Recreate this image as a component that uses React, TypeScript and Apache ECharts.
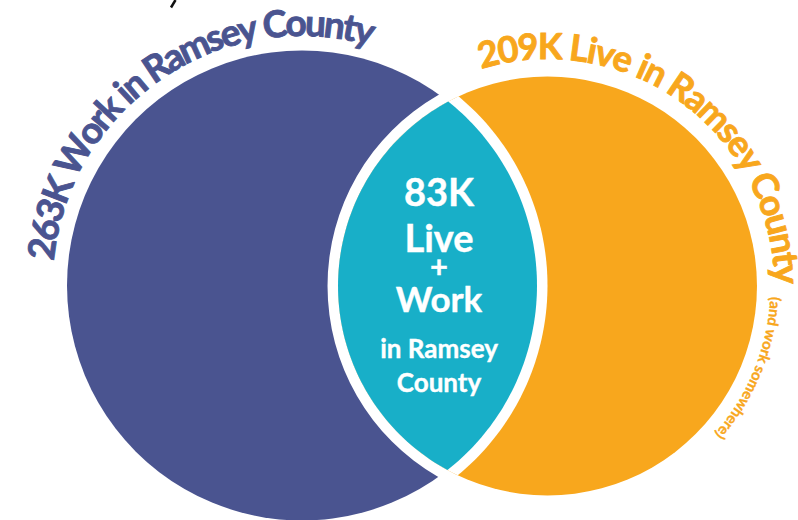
import React, { useEffect, useRef } from "react";
import * as echarts from "echarts";

// ---------------- data ----------------
const setNames = ["Work in Ramsey County", "Live in Ramsey County"];
const setValues = [263, 209]; // thousands of people
const overlapValue = 83; // thousands who live + work in Ramsey County
const valueSuffix = "K";
const overlapLines = ["Live", "+", "Work", "in Ramsey", "County"];
const liveNote = "(and work somewhere)";

// ---------------- style / layout ----------------
const W = 798;
const H = 520;
const COLORS = { work: "#4A5490", live: "#F8A71D", both: "#18AFC8", white: "#FFFFFF" };
const FONT = "Lato, 'Open Sans', sans-serif";
const PX_PER_SQRT = 14.49; // circle radius = PX_PER_SQRT * sqrt(value)
const CENTERS: [number, number][] = [
  [302, 285.5],
  [547.5, 286],
];
const GAP = 10.5;

type Circ = { cx: number; cy: number; r: number };

function lensPoints(a: Circ, b: Circ, n = 90): number[][] {
  const dx = b.cx - a.cx;
  const dy = b.cy - a.cy;
  const d = Math.hypot(dx, dy);
  const phiAB = Math.atan2(dy, dx);
  const phiBA = phiAB + Math.PI;
  const tA = Math.acos((d * d + a.r * a.r - b.r * b.r) / (2 * d * a.r));
  const tB = Math.acos((d * d + b.r * b.r - a.r * a.r) / (2 * d * b.r));
  const pts: number[][] = [];
  for (let i = 0; i <= n; i++) {
    const t = phiAB - tA + (2 * tA * i) / n;
    pts.push([a.cx + a.r * Math.cos(t), a.cy + a.r * Math.sin(t)]);
  }
  for (let i = 1; i < n; i++) {
    const t = phiBA - tB + (2 * tB * i) / n;
    pts.push([b.cx + b.r * Math.cos(t), b.cy + b.r * Math.sin(t)]);
  }
  return pts;
}

let measureCtx: CanvasRenderingContext2D | null = null;
function measure(text: string, font: string): number {
  if (!measureCtx) measureCtx = document.createElement("canvas").getContext("2d");
  measureCtx!.font = font;
  return measureCtx!.measureText(text).width;
}

// text placed clockwise along an arc; angles in degrees (math convention, y up)
function arcText(
  text: string,
  cx: number,
  cy: number,
  rMid: number,
  startDeg: number,
  endDeg: number,
  fontSize: number,
  color: string,
  weightStroke: number
) {
  const font = `bold ${fontSize}px ${FONT}`;
  const chars = Array.from(text);
  const widths = chars.map((c) => measure(c, font));
  const total = widths.reduce((s, w) => s + w, 0);
  const arcLen = (((startDeg - endDeg) * Math.PI) / 180) * rMid;
  const spacing = (arcLen - total) / (chars.length - 1);
  const els: any[] = [];
  let s = 0;
  chars.forEach((ch, i) => {
    const c = s + widths[i] / 2;
    const th = (startDeg * Math.PI) / 180 - c / rMid;
    s += widths[i] + spacing;
    if (ch === " ") return;
    els.push({
      type: "text",
      x: cx + rMid * Math.cos(th),
      y: cy - rMid * Math.sin(th),
      rotation: th - Math.PI / 2,
      z: 100,
      silent: true,
      style: {
        text: ch,
        fill: color,
        stroke: color,
        lineWidth: weightStroke,
        fontSize,
        lineHeight: Math.round(fontSize * 0.8),
        fontWeight: "bold",
        fontFamily: FONT,
        align: "center",
        verticalAlign: "middle",
      },
    });
  });
  return els;
}

export default function App() {
  const ref = useRef<HTMLDivElement>(null);

  useEffect(() => {
    const chart = echarts.init(ref.current!, undefined, { renderer: "svg", width: W, height: H });

    const radius = (v: number) => PX_PER_SQRT * Math.sqrt(v);
    const work: Circ = { cx: CENTERS[0][0], cy: CENTERS[0][1], r: radius(setValues[0]) };
    const live: Circ = { cx: CENTERS[1][0], cy: CENTERS[1][1], r: radius(setValues[1]) };

    const seriesData = [
      { name: setNames[0], value: setValues[0] },
      { name: setNames[1], value: setValues[1] },
      { name: "Live + Work in Ramsey County", value: overlapValue },
    ];

    const renderItem = (params: any) => {
      const i = params.dataIndex;
      if (i === 0) {
        return { type: "circle", shape: { ...work }, style: { fill: COLORS.work } };
      }
      if (i === 1) {
        return {
          type: "group",
          children: [
            { type: "circle", shape: { cx: live.cx, cy: live.cy, r: live.r + GAP }, style: { fill: COLORS.white } },
            { type: "circle", shape: { ...live }, style: { fill: COLORS.live } },
            {
              type: "polygon",
              shape: { points: lensPoints({ ...work, r: work.r + GAP }, live) },
              style: { fill: COLORS.white },
            },
          ],
        };
      }
      return { type: "polygon", shape: { points: lensPoints(work, live) }, style: { fill: COLORS.both } };
    };

    const labelWork = `${setValues[0]}${valueSuffix} ${setNames[0]}`;
    const labelLive = `${setValues[1]}${valueSuffix} ${setNames[1]}`;

    const centerX = 439;
    // [text, baseline y, font size, line-box height]
    const centerSpec: [string, number, number, number][] = [
      [`${overlapValue}${valueSuffix}`, 205, 38, 32],
      [overlapLines[0], 251, 38, 30],
      [overlapLines[1], 277, 31, 18],
      [overlapLines[2], 311, 35, 28],
      [overlapLines[3], 357, 26, 26],
      [overlapLines[4], 391, 26, 26],
    ];
    const centerTexts = centerSpec.map(([t, base, fs, lh]) => ({
      type: "text",
      x: centerX,
      y: base - 0.36 * fs,
      z: 100,
      silent: true,
      style: {
        text: t,
        fill: COLORS.white,
        stroke: COLORS.white,
        lineWidth: 0.4,
        fontSize: fs,
        lineHeight: lh,
        fontWeight: "bold",
        fontFamily: FONT,
        align: "center",
        verticalAlign: "middle",
      },
    }));

    const graphics = [
      ...arcText(labelWork, work.cx, work.cy, 264, 174.3, 74, 37, COLORS.work, 0.9),
      ...arcText(labelLive, live.cx, live.cy, 241, 106.8, 0.5, 36, COLORS.live, 0.9),
      ...arcText(liveNote, live.cx, live.cy, 229, -2.8, -41.5, 15, COLORS.live, 0.3),
      ...centerTexts,
      {
        type: "line",
        z: 100,
        silent: true,
        shape: { x1: 175.5, y1: 0, x2: 171, y2: 7.5 },
        style: { stroke: "#111", lineWidth: 2.5 },
      },
    ];

    chart.setOption({
      animation: false,
      backgroundColor: "#FFFFFF",
      series: [
        {
          type: "custom",
          coordinateSystem: "none",
          silent: true,
          data: seriesData,
          renderItem,
        },
      ],
      graphic: { elements: graphics },
    });

    return () => chart.dispose();
  }, []);

  return (
    <div
      ref={ref}
      style={{ position: "fixed", left: 0, top: 0, width: W, height: H, background: "#fff" }}
    />
  );
}
